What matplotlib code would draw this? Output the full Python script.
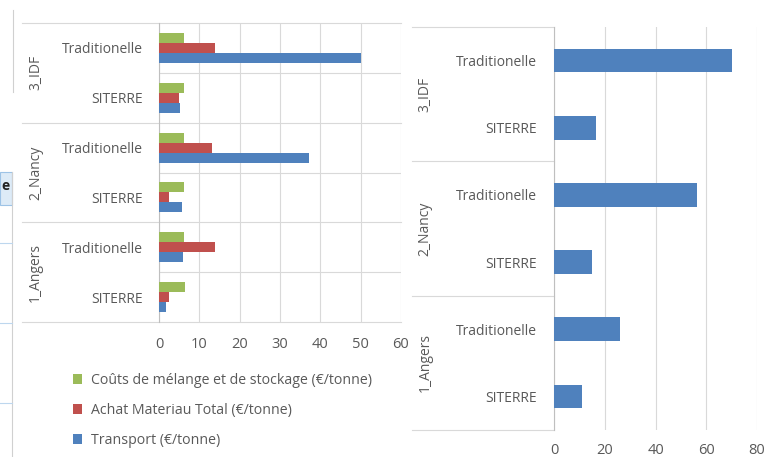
import matplotlib
matplotlib.use("Agg")
import matplotlib.pyplot as plt
from matplotlib.lines import Line2D
from matplotlib.patches import Rectangle

plt.rcParams['font.family'] = ['Open Sans', 'DejaVu Sans']

# ---- data ----
groups = ['3_IDF', '2_Nancy', '1_Angers']
cats = ['Traditionelle', 'SITERRE'] * 3
melange = [6.2, 6.2, 6.2, 6.2, 6.2, 6.4]      # Coûts de mélange et de stockage
achat = [13.8, 4.9, 13.2, 2.5, 13.8, 2.5]     # Achat Materiau Total
transport = [50.0, 5.1, 37.1, 5.7, 6.0, 1.8]  # Transport
total = [70.1, 16.6, 56.3, 15.0, 26.2, 11.2]  # right chart

left_ticks = [0, 10, 20, 30, 40, 50, 60]
right_ticks = [0, 20, 40, 60, 80]

GREEN = '#9BBB59'
RED = '#C0504D'
BLUE = '#4F81BD'
GRID = '#D9D9D9'
TXT = '#595959'

W, H = 779, 457
fig = plt.figure(figsize=(W / 100, H / 100), dpi=100)


def rect(x0, y0, x1, y1):
    return [x0 / W, 1 - y1 / H, (x1 - x0) / W, (y1 - y0) / H]


def fline(xs, ys, color='#BDD7EE', lw=0.8):
    fig.add_artist(Line2D([x / W for x in xs], [1 - y / H for y in ys],
                          color=color, lw=lw, transform=fig.transFigure))


# ---- bits of the spreadsheet behind the charts ----
fline([13, 13], [10, 92], color='#D0D0D0')
fig.add_artist(Rectangle((0, 1 - 205 / H), 12 / W, 33 / H, transform=fig.transFigure,
                         facecolor='#DDEBF7', edgecolor='#9DC3E6', lw=0.8))
fig.text(5 / W, 1 - 186 / H, 'e', fontsize=10, fontweight='bold', color='#222222',
         va='center', ha='center')
fline([12, 12], [172, 457], color='#D0D0D0')
for yy in [243, 323, 403]:
    fline([0, 12], [yy, yy])

rows = list(range(6))

# ---- left chart ----
ax = fig.add_axes(rect(159, 23, 401, 322))
ax.barh([r + 0.2 for r in rows], transport, height=0.2, color=BLUE, label='Transport (€/tonne)', zorder=3)
ax.barh(rows, achat, height=0.2, color=RED, label='Achat Materiau Total (€/tonne)', zorder=3)
ax.barh([r - 0.2 for r in rows], melange, height=0.2, color=GREEN,
        label='Coûts de mélange et de stockage (€/tonne)', zorder=3)
ax.set_xlim(0, 60)
ax.set_ylim(5.5, -0.5)
ax.set_xticks(left_ticks)
ax.set_yticks(rows)
ax.set_yticklabels(cats)
ax.tick_params(length=0, labelcolor=TXT, labelsize=10)
ax.tick_params(axis='y', pad=11.5)
ax.tick_params(axis='x', pad=10.5, labelsize=10.5)
for s in ['top', 'right', 'bottom']:
    ax.spines[s].set_visible(False)
ax.spines['left'].set_color('#BFBFBF')
ax.spines['left'].set_linewidth(0.8)
ax.grid(axis='x', color=GRID, lw=0.8, zorder=0)
for b in [0.5, 2.5, 4.5]:
    ax.axhline(b, color=GRID, lw=0.8, zorder=1)
for b in [-0.5, 1.5, 3.5, 5.5]:
    ax.plot([-0.566, 1], [b, b], color=GRID, lw=0.8, clip_on=False,
            transform=ax.get_yaxis_transform(), zorder=1)
for k, g in enumerate(groups):
    ax.text(-0.51, 2 * k + 0.5, g, rotation=90, ha='center', va='center',
            color=TXT, fontsize=10, transform=ax.get_yaxis_transform())

h, l = ax.get_legend_handles_labels()
fig.legend(h[::-1], l[::-1], loc='upper left', bbox_to_anchor=(66 / W, 1 - 366 / H),
           frameon=False, fontsize=10.2, labelcolor=TXT, handlelength=0.65,
           handleheight=0.65, handletextpad=0.6, labelspacing=1.05, borderpad=0)

# ---- right chart ----
ax2 = fig.add_axes(rect(554, 27, 757, 430))
ax2.barh(rows, total, height=0.35, color=BLUE, zorder=3)
ax2.set_xlim(0, 80)
ax2.set_ylim(5.5, -0.5)
ax2.set_xticks(right_ticks)
ax2.set_yticks(rows)
ax2.set_yticklabels(cats)
ax2.tick_params(length=0, labelcolor=TXT, labelsize=10)
ax2.tick_params(axis='y', pad=12)
ax2.tick_params(axis='x', pad=9, labelsize=10.5)
for s in ['top', 'right', 'bottom']:
    ax2.spines[s].set_visible(False)
ax2.spines['left'].set_color('#BFBFBF')
ax2.spines['left'].set_linewidth(0.8)
ax2.grid(axis='x', color=GRID, lw=0.8, zorder=0)
for b in [-0.5, 1.5, 3.5, 5.5]:
    ax2.plot([-0.70, 0], [b, b], color=GRID, lw=0.8, clip_on=False,
             transform=ax2.get_yaxis_transform(), zorder=1)
for k, g in enumerate(groups):
    ax2.text(-0.635, 2 * k + 0.5, g, rotation=90, ha='center', va='center',
             color=TXT, fontsize=10, transform=ax2.get_yaxis_transform())

fig.savefig('out.png', dpi=100)
